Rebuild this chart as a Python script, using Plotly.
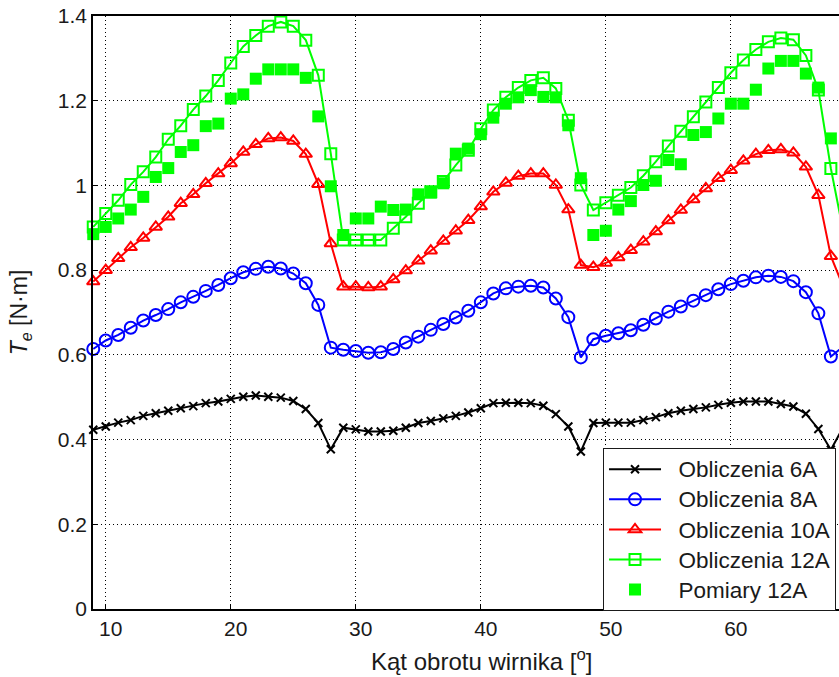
import plotly.graph_objects as go

angle = list(range(9, 70))

calc_6A = [0.423, 0.431, 0.440, 0.446, 0.456, 0.462, 0.468, 0.474, 0.479, 0.486,
           0.490, 0.496, 0.501, 0.504, 0.501, 0.499, 0.491, 0.472, 0.439, 0.377,
           0.428, 0.424, 0.419, 0.419, 0.421, 0.428, 0.439, 0.444, 0.450, 0.456,
           0.464, 0.474, 0.486, 0.487, 0.487, 0.486, 0.480, 0.460, 0.431, 0.372,
           0.439, 0.440, 0.440, 0.440, 0.446, 0.453, 0.462, 0.468, 0.472, 0.476,
           0.482, 0.487, 0.490, 0.490, 0.490, 0.484, 0.478, 0.461, 0.425, 0.376,
           0.430]

calc_8A = [0.614, 0.634, 0.647, 0.664, 0.681, 0.694, 0.708, 0.724, 0.737, 0.751,
           0.765, 0.781, 0.795, 0.803, 0.808, 0.804, 0.792, 0.769, 0.718, 0.617,
           0.612, 0.609, 0.605, 0.606, 0.614, 0.629, 0.643, 0.659, 0.673, 0.688,
           0.704, 0.724, 0.745, 0.757, 0.761, 0.763, 0.759, 0.733, 0.689, 0.594,
           0.637, 0.645, 0.651, 0.658, 0.671, 0.686, 0.702, 0.714, 0.728, 0.741,
           0.755, 0.767, 0.775, 0.783, 0.787, 0.784, 0.774, 0.748, 0.698, 0.596,
           0.620]

calc_10A = [0.773, 0.800, 0.828, 0.854, 0.876, 0.902, 0.926, 0.958, 0.979, 1.005,
            1.028, 1.052, 1.079, 1.097, 1.111, 1.113, 1.105, 1.074, 1.003, 0.863,
            0.761, 0.761, 0.759, 0.761, 0.778, 0.799, 0.822, 0.846, 0.869, 0.893,
            0.918, 0.950, 0.985, 1.006, 1.022, 1.028, 1.028, 1.001, 0.943, 0.812,
            0.807, 0.817, 0.830, 0.847, 0.867, 0.891, 0.917, 0.942, 0.967, 0.993,
            1.017, 1.036, 1.058, 1.074, 1.083, 1.085, 1.077, 1.044, 0.977, 0.833,
            0.760]

calc_12A = [0.902, 0.934, 0.965, 1.002, 1.032, 1.067, 1.109, 1.141, 1.179, 1.211,
            1.248, 1.289, 1.328, 1.354, 1.376, 1.386, 1.376, 1.343, 1.260, 1.075,
            0.871, 0.871, 0.871, 0.871, 0.899, 0.926, 0.958, 0.985, 1.009, 1.048,
            1.083, 1.134, 1.178, 1.208, 1.231, 1.248, 1.254, 1.229, 1.154, 1.001,
            0.942, 0.959, 0.977, 0.995, 1.023, 1.056, 1.093, 1.128, 1.162, 1.197,
            1.231, 1.266, 1.296, 1.321, 1.339, 1.348, 1.344, 1.307, 1.225, 1.040,
            0.890]

meas_12A = [0.885, 0.902, 0.922, 0.943, 0.973, 1.020, 1.041, 1.079, 1.095, 1.140,
            1.146, 1.205, 1.215, 1.252, 1.274, 1.274, 1.274, 1.254, 1.163, 0.998,
            0.883, 0.922, 0.922, 0.950, 0.942, 0.943, 0.979, 0.983, 1.005, 1.075,
            1.087, 1.121, 1.160, 1.193, 1.208, 1.225, 1.209, 1.208, 1.142, 1.017,
            0.883, 0.893, 0.943, 0.963, 1.001, 1.011, 1.060, 1.050, 1.119, 1.126,
            1.158, 1.193, 1.193, 1.226, 1.276, 1.294, 1.294, 1.264, 1.231, 1.111,
            0.895]

x_ticks = [10, 20, 30, 40, 50, 60]
y_ticks = [0, 0.2, 0.4, 0.6, 0.8, 1.0, 1.2, 1.4]
y_tick_labels = ["0", "0.2", "0.4", "0.6", "0.8", "1", "1.2", "1.4"]

FONT = "Liberation Sans, Arial, Helvetica, sans-serif"
PAD = "\u00a0\u00a0"


def legend_name(text):
    return '<span style="font-size:22.5px">' + PAD + text + "</span>"


fig = go.Figure()
fig.add_trace(go.Scatter(
    x=angle, y=calc_6A, name=legend_name("Obliczenia 6A"), mode="lines+markers",
    line=dict(color="#000000", width=2),
    marker=dict(symbol="x-thin-open", size=8, line=dict(color="#000000", width=2)),
    cliponaxis=False))
fig.add_trace(go.Scatter(
    x=angle, y=calc_8A, name=legend_name("Obliczenia 8A"), mode="lines+markers",
    line=dict(color="#0000ff", width=2),
    marker=dict(symbol="circle-open", size=12, line=dict(color="#0000ff", width=2)),
    cliponaxis=False))
fig.add_trace(go.Scatter(
    x=angle, y=calc_10A, name=legend_name("Obliczenia 10A"), mode="lines+markers",
    line=dict(color="#ff0000", width=2),
    marker=dict(symbol="triangle-up-open", size=11, line=dict(color="#ff0000", width=2)),
    cliponaxis=False))
fig.add_trace(go.Scatter(
    x=angle, y=calc_12A, name=legend_name("Obliczenia 12A"), mode="lines+markers",
    line=dict(color="#00ff00", width=2),
    marker=dict(symbol="square-open", size=11, line=dict(color="#00ff00", width=2)),
    cliponaxis=False))
fig.add_trace(go.Scatter(
    x=angle, y=meas_12A, name=legend_name("Pomiary 12A"), mode="markers",
    marker=dict(symbol="square", size=12, color="#00ff00", line=dict(width=0)),
    cliponaxis=False))

grid = dict(showgrid=True, gridcolor="#000000", gridwidth=1, griddash="1px,3px")

fig.update_xaxes(
    range=[8.98, 68.65], tickvals=x_ticks, ticks="inside", ticklen=5,
    tickcolor="#000000", showline=True, linecolor="#000000", linewidth=1.5,
    mirror=True, zeroline=False, automargin=False, ticklabelshift=5,
    tickfont=dict(family=FONT, size=21, color="#1a1a1a"),
    **grid)
fig.update_yaxes(
    range=[0, 1.4], tickvals=y_ticks, ticktext=y_tick_labels, ticks="inside",
    ticklen=5, tickcolor="#000000", showline=True, linecolor="#000000",
    linewidth=1.5, mirror=False, zeroline=False, automargin=False,
    tickfont=dict(family=FONT, size=21, color="#1a1a1a"),
    title=dict(text="<i>T</i><sub><i>e</i></sub> [N·m]",
               font=dict(family=FONT, size=23, color="#1a1a1a"), standoff=24),
    **grid)

fig.add_annotation(
    text="Kąt obrotu wirnika [<sup>o</sup>]",
    xref="paper", yref="paper", x=0.5214, y=-0.0854,
    xanchor="center", yanchor="middle", showarrow=False,
    font=dict(family=FONT, size=24, color="#1a1a1a"))

fig.update_layout(
    width=839, height=677,
    margin=dict(l=93, r=0, t=16, b=68),
    paper_bgcolor="#ffffff", plot_bgcolor="#ffffff",
    showlegend=True,
    legend=dict(
        x=0.996, y=0.271, xanchor="right", yanchor="top",
        bgcolor="#ffffff", bordercolor="#1a1a1a", borderwidth=1,
        font=dict(family=FONT, size=20.8, color="#1a1a1a"),
        itemwidth=52, tracegroupgap=0),
)

fig.write_html(
    "out.html",
    config={"displayModeBar": False},
    post_script="document.body.style.margin='0px';document.body.style.overflow='hidden';",
)
